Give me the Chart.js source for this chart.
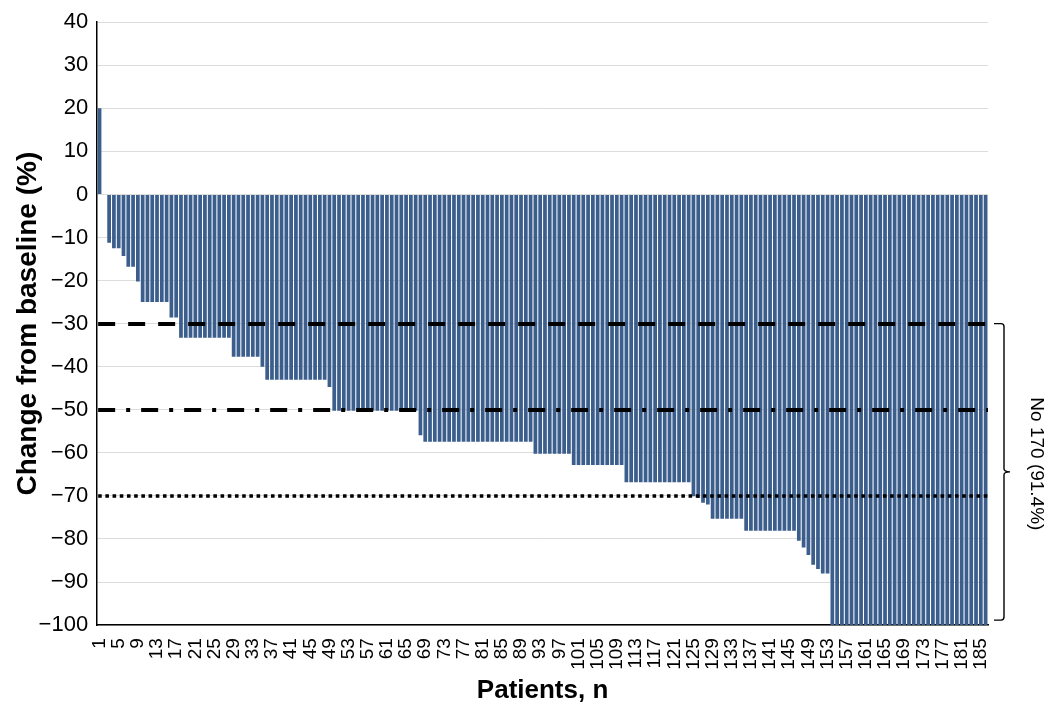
<!DOCTYPE html>
<html>
<head>
<meta charset="utf-8">
<script src="https://cdn.jsdelivr.net/npm/chart.js@4"></script>
<style>
  html, body { margin: 0; padding: 0; background: #fff; }
  #wrap { width: 1049px; height: 706px; position: relative; }
</style>
</head>
<body>
<div id="wrap"><canvas id="myChart"></canvas></div>
<script>
// patient numbers 1..186
const patients = [];
for (let i = 1; i <= 186; i++) patients.push(String(i));

// change from baseline (%), one value per patient
const change = [
  20, 0, -11.2, -12.5, -12.5, -14.3, -16.8, -16.8, -20.2, -25,
  -25, -25, -25, -25, -25, -28.6, -28.6, -33.3, -33.3, -33.3,
  -33.3, -33.3, -33.3, -33.3, -33.3, -33.3, -33.3, -33.3, -37.7, -37.7,
  -37.7, -37.7, -37.7, -37.7, -40, -43, -43, -43, -43, -43,
  -43, -43, -43, -43, -43, -43, -43, -43, -44.7, -50.2,
  -50.2, -50.2, -50.2, -50.2, -50.2, -50.2, -50.2, -50.2, -50.2, -50.2,
  -50.2, -50.2, -50.2, -50.2, -50.2, -50.2, -50.2, -55.9, -57.4, -57.4,
  -57.4, -57.4, -57.4, -57.4, -57.4, -57.4, -57.4, -57.4, -57.4, -57.4,
  -57.4, -57.4, -57.4, -57.4, -57.4, -57.4, -57.4, -57.4, -57.4, -57.4,
  -57.4, -60.2, -60.2, -60.2, -60.2, -60.2, -60.2, -60.2, -60.2, -62.8,
  -62.8, -62.8, -62.8, -62.8, -62.8, -62.8, -62.8, -62.8, -62.8, -62.8,
  -66.8, -66.8, -66.8, -66.8, -66.8, -66.8, -66.8, -66.8, -66.8, -66.8,
  -66.8, -66.8, -66.8, -66.8, -70.1, -70.5, -71.6, -72, -75.3, -75.3,
  -75.3, -75.3, -75.3, -75.3, -75.3, -78.1, -78.1, -78.1, -78.1, -78.1,
  -78.1, -78.1, -78.1, -78.1, -78.1, -78.1, -80.4, -82, -83.7, -86,
  -87, -88, -88, -100, -100, -100, -100, -100, -100, -100,
  -100, -100, -100, -100, -100, -100, -100, -100, -100, -100,
  -100, -100, -100, -100, -100, -100, -100, -100, -100, -100,
  -100, -100, -100, -100, -100, -100
];

// reference thresholds: -30 dashed, -50 dash-dot, -70 dotted
const thresholds = [-30, -50, -70];

// the bracket on the right spans these values
const bracketRange = [-30, -100];
const bracketLabel = "No 170 (91.4%)";

const FONT = "'Liberation Sans', Arial, sans-serif";

const thresholdLines = {
  id: "thresholdLines",
  afterDatasetsDraw(chart) {
    const { ctx, chartArea, scales } = chart;
    const dashes = [[17, 13], [17, 11, 4, 11], [3.6, 3.6]];
    const widths = [3.8, 3.8, 3.6];
    ctx.save();
    ctx.strokeStyle = "#000";
    thresholds.forEach((v, i) => {
      const y = Math.round(scales.y.getPixelForValue(v));
      ctx.lineWidth = widths[i];
      ctx.setLineDash(dashes[i]);
      ctx.beginPath();
      ctx.moveTo(chartArea.left + 1, y);
      ctx.lineTo(chartArea.right, y);
      ctx.stroke();
    });
    ctx.restore();
  },
};

const bracket = {
  id: "bracket",
  afterDraw(chart) {
    const { ctx, chartArea, scales } = chart;
    const y1 = scales.y.getPixelForValue(bracketRange[0]);
    const y2 = scales.y.getPixelForValue(bracketRange[1]) - 5;
    const ym = (y1 + y2) / 2;
    const x0 = chartArea.right + 6;
    const x1 = chartArea.right + 16;
    const r = 3;
    ctx.save();
    ctx.strokeStyle = "#000";
    ctx.lineWidth = 1.4;
    ctx.beginPath();
    ctx.moveTo(x0, y1);
    ctx.lineTo(x1 - r, y1);
    ctx.quadraticCurveTo(x1, y1, x1, y1 + r);
    ctx.lineTo(x1, ym - r);
    ctx.quadraticCurveTo(x1, ym, x1 + 6, ym);
    ctx.quadraticCurveTo(x1, ym, x1, ym + r);
    ctx.lineTo(x1, y2 - r);
    ctx.quadraticCurveTo(x1, y2, x1 - r, y2);
    ctx.lineTo(x0, y2);
    ctx.stroke();

    ctx.translate(chartArea.right + 48, ym - 8);
    ctx.rotate(Math.PI / 2);
    ctx.fillStyle = "#000";
    ctx.font = "19px " + FONT;
    ctx.textAlign = "center";
    ctx.textBaseline = "middle";
    ctx.fillText(bracketLabel, 0, 0);
    ctx.restore();
  },
};

const ctx = document.getElementById("myChart");

new Chart(ctx, {
  type: "bar",
  data: {
    labels: patients,
    datasets: [
      {
        data: change,
        backgroundColor: "#3b5e8d",
        borderWidth: 0,
        barPercentage: 0.78,
        categoryPercentage: 1.0,
      },
    ],
  },
  options: {
    responsive: true,
    maintainAspectRatio: false,
    animation: false,
    layout: { padding: { top: 9, right: 61, left: 3, bottom: 0 } },
    plugins: {
      legend: { display: false },
      tooltip: { enabled: false },
    },
    scales: {
      x: {
        grid: { display: false },
        border: { color: "#000", width: 1.5 },
        ticks: {
          autoSkip: false,
          minRotation: 90,
          maxRotation: 90,
          padding: 5,
          color: "#000",
          font: { family: FONT, size: 19 },
          callback: (v, i) => (i % 4 === 0 ? patients[i] : ""),
        },
        title: {
          display: true,
          text: "Patients, n",
          color: "#000",
          padding: { top: 0, bottom: 0 },
          font: { family: FONT, size: 26, weight: "bold" },
        },
      },
      y: {
        min: -100,
        max: 40,
        grid: { color: "#dcdcdc", drawTicks: false },
        border: { color: "#000", width: 1.5 },
        ticks: {
          stepSize: 10,
          padding: 9,
          color: "#000",
          font: { family: FONT, size: 22 },
          callback: (v) => String(v).replace("-", "\u2212"),
        },
        title: {
          display: true,
          text: "Change from baseline (%)",
          color: "#000",
          padding: { top: 8, bottom: -15 },
          font: { family: FONT, size: 28, weight: "bold" },
        },
      },
    },
  },
  plugins: [thresholdLines, bracket],
});
</script>
</body>
</html>
